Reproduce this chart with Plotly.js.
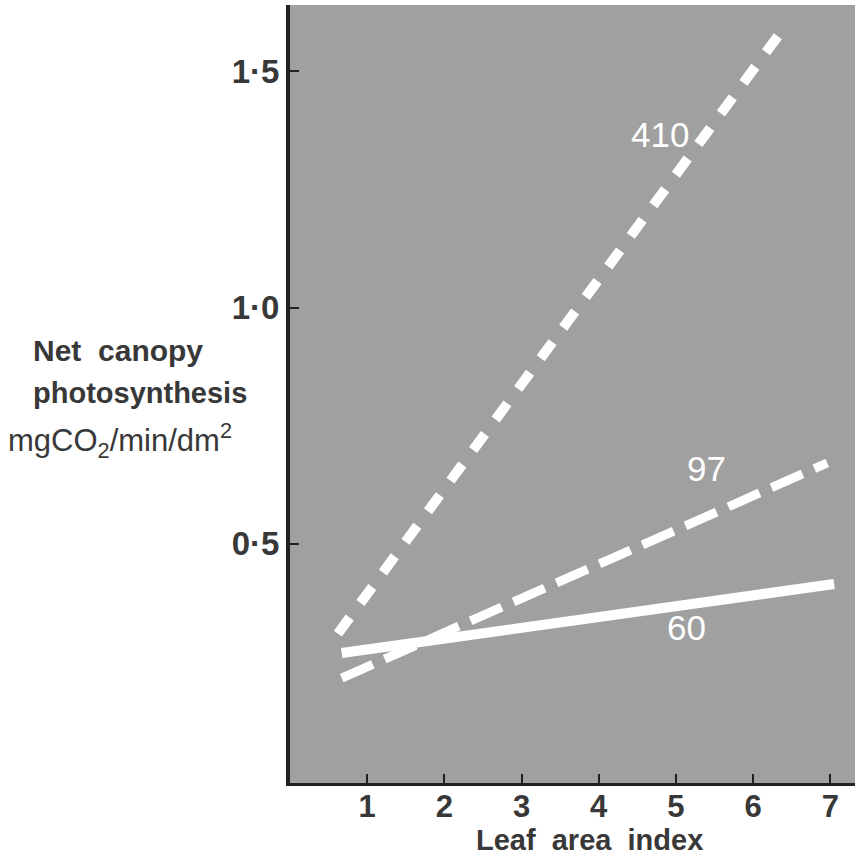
<!DOCTYPE html>
<html>
<head>
<meta charset="utf-8">
<script src="https://cdn.plot.ly/plotly-3.0.1.min.js"></script>
<style>html,body{margin:0;padding:0;background:#fff}#chart{width:855px;height:858px}</style>
</head>
<body>
<div id="chart"></div>
<script>
// Data
const lai410 = [0.62, 6.37];
const ps410 = [0.31, 1.585];
const lai97 = [0.67, 6.96];
const ps97 = [0.216, 0.671];
const lai60 = [0.67, 7.05];
const ps60 = [0.269, 0.415];
const seriesLabels = ["410", "97", "60"];
const labelX = [4.79, 5.4, 5.14];
const labelY = [1.365, 0.66, 0.322];
const xTicks = [1, 2, 3, 4, 5, 6, 7];
const yTickVals = [0.5, 1.0, 1.5];
const yTickText = ["0·5", "1·0", "1·5"];

const FONT = "Liberation Sans, Arial, sans-serif";

const traces = [
  {x: lai410, y: ps410, mode: "lines", line: {color: "#ffffff", width: 10, dash: "20px,18px"}, hoverinfo: "none"},
  {x: lai97, y: ps97, mode: "lines", line: {color: "#ffffff", width: 9, dash: "34px,13px"}, hoverinfo: "none"},
  {x: lai60, y: ps60, mode: "lines", line: {color: "#ffffff", width: 10}, hoverinfo: "none"}
];

const annotations = seriesLabels.map((t, i) => ({
  x: labelX[i], y: labelY[i], xref: "x", yref: "y", text: t, showarrow: false,
  font: {family: FONT, size: 35, color: "#ffffff"}
}));
// pixel helpers for paper coordinates (plot area: x 290..855, y 5..783)
const px = v => (v - 290) / 565;
const py = v => (783 - v) / 778;
annotations.push(
  {xref: "paper", yref: "paper", x: px(31), y: py(350), xanchor: "left", yanchor: "middle", showarrow: false,
   text: "<b>Net  canopy</b>", font: {family: FONT, size: 30, color: "#383838"}},
  {xref: "paper", yref: "paper", x: px(31), y: py(393), xanchor: "left", yanchor: "middle", showarrow: false,
   text: "<b>photosynthesis</b>", font: {family: FONT, size: 29, color: "#383838"}},
  {xref: "paper", yref: "paper", x: px(6), y: py(440), xanchor: "left", yanchor: "middle", showarrow: false,
   text: "mgCO<sub>2</sub>/min/dm<sup>2</sup>", font: {family: FONT, size: 31, color: "#383838"}},
  {xref: "paper", yref: "paper", x: px(589), y: py(840), xanchor: "center", yanchor: "middle", showarrow: false,
   text: "<b>Leaf  area  index</b>", font: {family: FONT, size: 29, color: "#383838"}}
);

const layout = {
  width: 855, height: 858,
  margin: {l: 290, r: 0, t: 5, b: 75},
  paper_bgcolor: "#ffffff",
  plot_bgcolor: "#a0a0a0",
  showlegend: false,
  xaxis: {
    range: [0, 7.32], tickvals: xTicks, ticktext: xTicks.map(v => "<b>" + v + "</b>"),
    ticks: "inside", ticklen: 9, tickwidth: 2, tickcolor: "#222",
    ticklabelstandoff: -6,
    showline: true, linecolor: "#222", linewidth: 3, showgrid: false, zeroline: false,
    tickfont: {family: FONT, size: 31, color: "#383838"}
  },
  yaxis: {
    range: [-0.006, 1.64], tickvals: yTickVals, ticktext: yTickText.map(t => "<b>" + t + "</b>"),
    ticks: "inside", ticklen: 9, tickwidth: 2, tickcolor: "#222",
    showline: true, linecolor: "#222", linewidth: 4, showgrid: false, zeroline: false,
    tickfont: {family: FONT, size: 33, color: "#383838"}
  },
  annotations: annotations
};

Plotly.newPlot("chart", traces, layout, {staticPlot: true, displayModeBar: false});
</script>
</body>
</html>
